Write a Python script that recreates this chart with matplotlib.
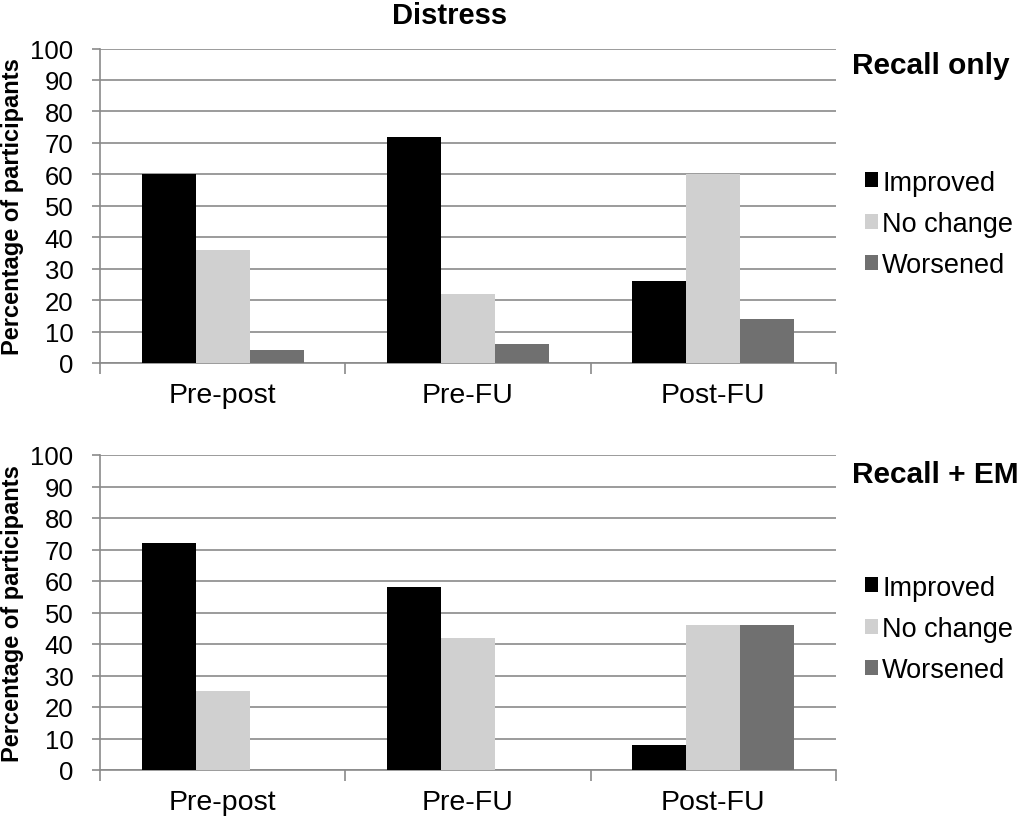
import numpy as np
import matplotlib
matplotlib.use('Agg')
import matplotlib.pyplot as plt
from matplotlib.patches import Patch

plt.rcParams['font.family'] = ['Liberation Sans', 'DejaVu Sans']

categories = ['Pre-post', 'Pre-FU', 'Post-FU']
series = ['Improved', 'No change', 'Worsened']
colors = ['#000000', '#d0d0d0', '#707070']

# percentages
recall_only = {
    'Improved': [60, 72, 26],
    'No change': [36, 22, 60],
    'Worsened': [4, 6, 14],
}
recall_em = {
    'Improved': [72, 58, 8],
    'No change': [25, 42, 46],
    'Worsened': [0, 0, 46],
}
panel_titles = ['Recall only', 'Recall + EM']
yticks = list(range(0, 101, 10))

W, H = 1024, 820
fig = plt.figure(figsize=(W / 100, H / 100), dpi=100)

grid_col = '#8a8a8a'
bar_w = 0.22


def draw_panel(ax, data, title, title_y, legend_y):
    x = np.arange(len(categories))
    for i, s in enumerate(series):
        ax.bar(x + (i - 1) * bar_w, data[s], width=bar_w, color=colors[i],
               zorder=3, linewidth=0)
    ax.set_xlim(-0.5, len(categories) - 0.5)
    ax.set_ylim(0, 100)
    ax.set_yticks(yticks)
    ax.yaxis.grid(True, color=grid_col, linewidth=1.2, zorder=0)
    ax.set_axisbelow(True)
    for side in ['top', 'right']:
        ax.spines[side].set_visible(False)
    for side in ['left', 'bottom']:
        ax.spines[side].set_color(grid_col)
        ax.spines[side].set_linewidth(1.2)
    ax.tick_params(axis='y', length=6, width=1.2, color=grid_col, pad=13,
                   labelsize=18.5)
    # category boundaries as ticks, labels as minor ticks
    ax.set_xticks(np.arange(-0.5, len(categories), 1.0))
    ax.set_xticklabels([])
    ax.tick_params(axis='x', which='major', length=8, width=1.2, color=grid_col)
    ax.set_xticks(x, minor=True)
    ax.set_xticklabels(categories, minor=True)
    ax.tick_params(axis='x', which='minor', length=0, pad=14, labelsize=20.5)
    ax.set_ylabel('Percentage of participants', fontsize=17, fontweight='bold',
                  labelpad=5)
    fig.text(852 / W, 1 - title_y / H, title, fontsize=21.5, fontweight='bold',
             ha='left', va='center')
    handles = [Patch(facecolor=c, edgecolor='none') for c in colors]
    ax.legend(handles, series, loc='center left',
              bbox_to_anchor=(865 / W, 1 - legend_y / H),
              bbox_transform=fig.transFigure, frameon=False, fontsize=19.5,
              handlelength=0.48, handleheight=0.48, handletextpad=0.15,
              labelspacing=0.57, borderpad=0, borderaxespad=0)


left = 100 / W
width = (836 - 100) / W
ax1 = fig.add_axes([left, 1 - 364 / H, width, (364 - 49.5) / H])
ax2 = fig.add_axes([left, 1 - 771 / H, width, (771 - 456) / H])

draw_panel(ax1, recall_only, panel_titles[0], 66, 225)
draw_panel(ax2, recall_em, panel_titles[1], 475, 630)

fig.text(450 / W, 1 - 16 / H, 'Distress', fontsize=21, fontweight='bold',
         ha='center', va='center')

fig.savefig('out.png', dpi=100)
